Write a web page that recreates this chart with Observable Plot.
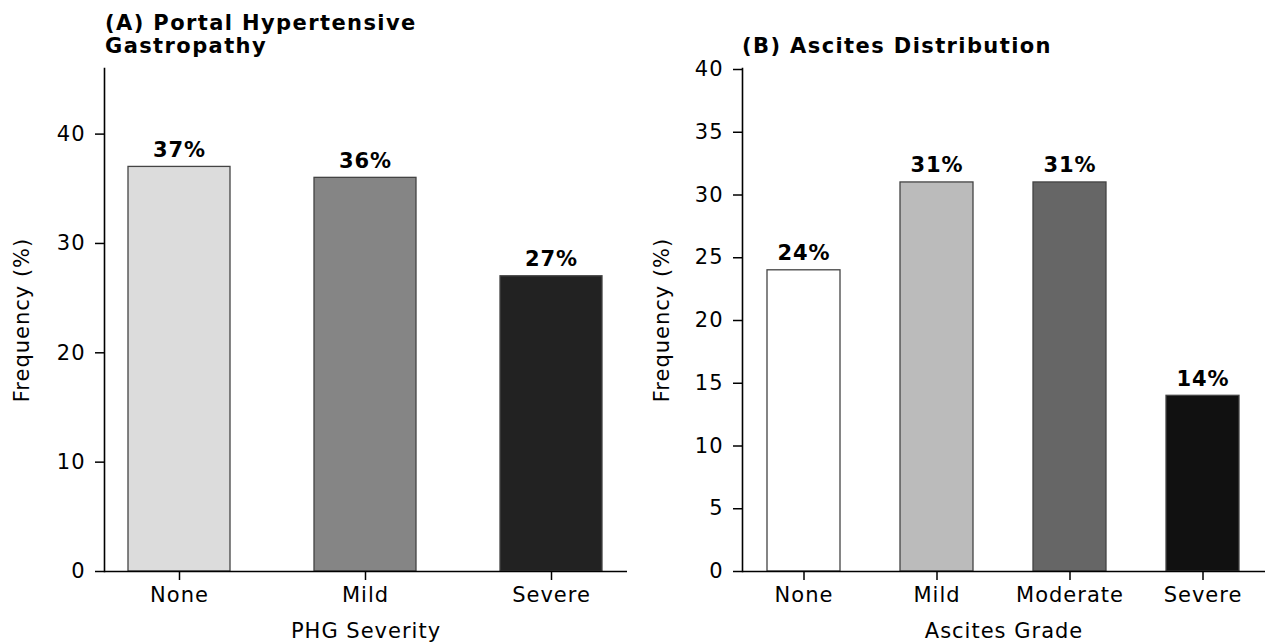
<!DOCTYPE html>
<html>
<head>
<meta charset="utf-8">
<script src="https://cdn.jsdelivr.net/npm/d3@7"></script>
<script src="https://cdn.jsdelivr.net/npm/@observablehq/plot@0.6"></script>
<style>
  html, body { margin: 0; padding: 0; background: #fff; width: 1265px; height: 643px; overflow: hidden; }
  .panel { position: absolute; top: 0; }
  .title { position: absolute; font-family: "DejaVu Sans", sans-serif; font-weight: bold; font-size: 21px; letter-spacing: 1.4px; line-height: 23px; color: #000; white-space: nowrap; }
</style>
</head>
<body>
<div id="left" class="panel" style="left:0px"></div>
<div id="right" class="panel" style="left:640px"></div>
<div class="title" style="left:105px; top:12px;">(A) Portal Hypertensive<br>Gastropathy</div>
<div class="title" style="left:742px; top:35px;">(B) Ascites Distribution</div>
<script>
// ---- data ----
const phgCategories = ["None", "Mild", "Severe"];
const phgValues = [37, 36, 27];
const phgColors = ["#dcdcdc", "#858585", "#222222"];
const phgYTicks = [0, 10, 20, 30, 40];

const ascitesCategories = ["None", "Mild", "Moderate", "Severe"];
const ascitesValues = [24, 31, 31, 14];
const ascitesColors = ["#ffffff", "#bbbbbb", "#666666", "#111111"];
const ascitesYTicks = [0, 5, 10, 15, 20, 25, 30, 35, 40];

const yLabel = "Frequency (%)";

function panel({cats, vals, colors, yMax, yTicks, xLabel, width, marginLeft, marginRight}) {
  const data = cats.map((c, i) => ({cat: c, value: vals[i], color: colors[i]}));
  const outer = 0.05 * (cats.length - 0.45);
  return Plot.plot({
    width, height: 643,
    marginLeft, marginRight, marginTop: 68, marginBottom: 72,
    style: {fontFamily: "'DejaVu Sans', sans-serif", fontSize: "21px", letterSpacing: "1px", color: "#000", background: "transparent", overflow: "visible"},
    x: {type: "band", domain: cats, paddingInner: 0.45, paddingOuter: outer, align: 0.5},
    y: {domain: [0, yMax]},
    marks: [
      Plot.barY(data, {x: "cat", y: "value", fill: d => d.color, stroke: "#444", strokeWidth: 1.3}),
      Plot.text(data, {x: "cat", y: "value", text: d => `${d.value}%`, fontWeight: "bold", fontSize: 21, lineAnchor: "bottom", dy: -10, fill: "#000"}),
      Plot.axisX({tickSize: 9, tickPadding: 7, fontSize: 21, label: xLabel, labelAnchor: "center", labelOffset: 66, stroke: "#000", strokeWidth: 1.5}),
      Plot.axisY({ticks: yTicks, tickSize: 9, tickPadding: 10, fontSize: 21, label: null, stroke: "#000", strokeWidth: 1.5}),
      Plot.text([yLabel], {text: d => d, frameAnchor: "left", textAnchor: "middle", lineAnchor: "middle", rotate: -90, dx: -(marginLeft - 22), fontSize: 21, fill: "#000"}),
      Plot.ruleY([0], {stroke: "#000", strokeWidth: 1.6}),
      Plot.frame({anchor: "left", stroke: "#000", strokeWidth: 1.6})
    ]
  });
}

document.getElementById("left").appendChild(panel({
  cats: phgCategories, vals: phgValues, colors: phgColors, yMax: 46, yTicks: phgYTicks,
  xLabel: "PHG Severity", width: 640, marginLeft: 104, marginRight: 13
}));
document.getElementById("right").appendChild(panel({
  cats: ascitesCategories, vals: ascitesValues, colors: ascitesColors, yMax: 40.08, yTicks: ascitesYTicks,
  xLabel: "Ascites Grade", width: 625, marginLeft: 102, marginRight: 0
}));
</script>
</body>
</html>
